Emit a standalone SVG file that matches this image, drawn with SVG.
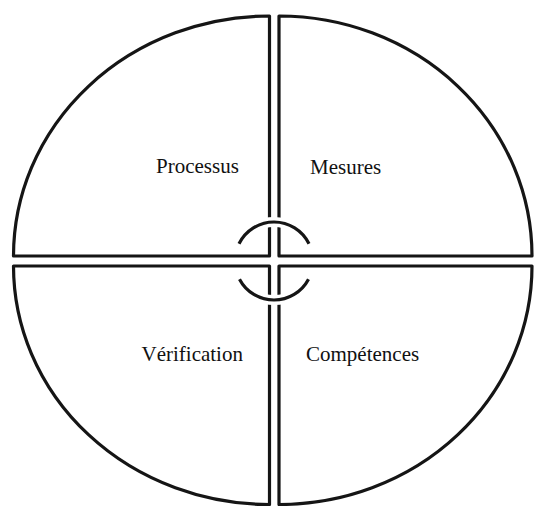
<svg xmlns="http://www.w3.org/2000/svg" width="534" height="506" viewBox="0 0 534 506">
<style>
.q{fill:#fff;stroke:#151515;stroke-width:3.2;stroke-linejoin:round}
.t{font-family:"Liberation Serif","Times New Roman",serif;font-size:21px;fill:#111}
.halo{fill:none;stroke:#fff;stroke-width:10}
.arc{fill:none;stroke:#151515;stroke-width:3.2}
</style>
<rect width="534" height="506" fill="#fff"/>
<g id="processus">
<path class="q" d="M269.5 256 L13.5 256 A256 240 0 0 1 269.5 16 Z"/>
<text class="t" x="156" y="173">Processus</text>
</g>
<g id="mesures">
<path class="q" d="M279 256 L279 16 A253 240 0 0 1 532 256 Z"/>
<text class="t" x="310" y="174">Mesures</text>
</g>
<g id="verification">
<path class="q" d="M269.5 266 L269.5 504.5 A256 238.5 0 0 1 13.5 266 Z"/>
<text class="t" x="141.5" y="361">Vérification</text>
</g>
<g id="competences">
<path class="q" d="M279 266 L532 266 A253 238.5 0 0 1 279 504.5 Z"/>
<text class="t" x="306" y="361">Compétences</text>
</g>
<g id="connectors">
<path class="halo" d="M239 243.8 A39 39 0 0 1 309 243.8"/>
<path class="halo" d="M239.5 279.2 A39 39 0 0 0 308.5 279.2"/>
<path class="arc" d="M239 243.8 A39 39 0 0 1 309 243.8"/>
<path class="arc" d="M239.5 279.2 A39 39 0 0 0 308.5 279.2"/>
</g>
</svg>
